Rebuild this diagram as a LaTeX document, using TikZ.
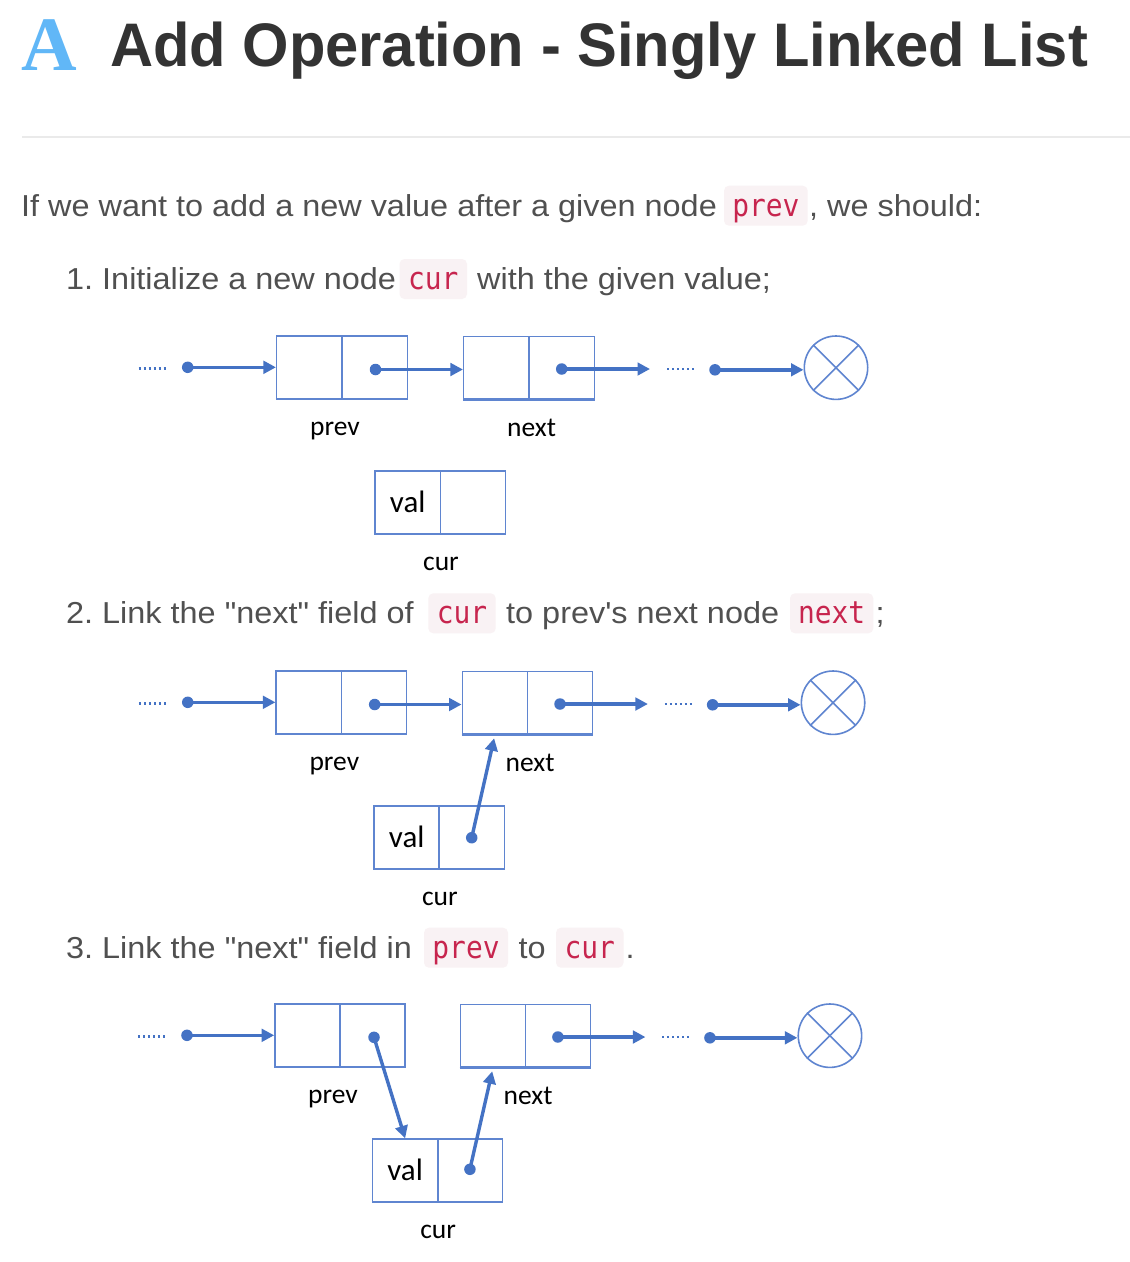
\documentclass[tikz,border=0pt]{standalone}
\usepackage{fontspec}
\setmainfont{Liberation Sans}
\newfontfamily\bodyfont[FakeStretch=1.07,Ligatures=TeXOff]{Liberation Sans}
\newfontfamily\titlefont[FakeStretch=0.97]{Liberation Sans}
\newfontfamily\serifA{Liberation Serif}
\newfontfamily\codefont[FakeStretch=0.9]{DejaVu Sans Mono}
\newfontfamily\labelfont{Carlito}
\usetikzlibrary{arrows.meta}
\frenchspacing
\definecolor{titlegray}{RGB}{51,51,51}
\definecolor{bodygray}{RGB}{80,80,80}
\definecolor{Ablue}{RGB}{97,183,247}
\definecolor{rulegray}{RGB}{234,234,234}
\definecolor{codered}{RGB}{199,37,78}
\definecolor{codebg}{RGB}{249,242,244}
\definecolor{arrowblue}{RGB}{68,114,196}
\definecolor{boxblue}{RGB}{95,133,208}
\tikzset{
  txt/.style={anchor=base west, inner sep=0pt, text=bodygray, font={\bodyfont\fontsize{30.3pt}{36pt}\selectfont}},
  chip/.style={anchor=base, inner xsep=0pt, inner ysep=0pt, text height=30.3pt, text depth=9.7pt, fill=codebg, rounded corners=5pt, text=codered, font={\codefont\fontsize{31pt}{36pt}\selectfont}},
  cell/.style={draw=boxblue, line width=1.4pt, minimum width=65.3pt, minimum height=62.5pt, inner sep=0pt, text=black, font={\labelfont\fontsize{31pt}{36pt}\selectfont}},
  edgeb/.style={draw=boxblue, line width=2.2pt},
  dotn/.style={circle, fill=arrowblue, minimum size=11.5pt, inner sep=0pt},
  arr/.style={draw=arrowblue, line width=3.4pt, -{Triangle[length=12.5pt,width=12.5pt]}},
  nullc/.style={circle, draw=boxblue, line width=1.6pt, minimum size=63.4pt, inner sep=0pt},
  xline/.style={draw=boxblue, line width=1.6pt},
  lbl/.style={anchor=base, inner sep=0pt, text=black, font={\labelfont\fontsize{27.5pt}{33pt}\selectfont}},
  ellip/.style={draw=arrowblue, line width=2.4pt, dash pattern=on 2.2pt off 2.8pt}
}
\newcommand\listbase[1]{%
  \node[cell] (pL#1) at (309.3,367.3) {};
  \node[cell] (pR#1) at (374.7,367.3) {};
  \node[cell] (nL#1) at (496.3,367.9) {};
  \node[cell] (nR#1) at (561.7,367.9) {};
  \node[cell] (cL#1) at (407.7,502.3) {val};
  \node[cell] (cR#1) at (473,502.3) {};
  \draw[edgeb] (pL#1.south west) -- (pR#1.south east);
  \draw[edgeb] (nL#1.south west) -- (nR#1.south east);
  \draw[edgeb] (cL#1.south west) -- (cR#1.south east);
  \node[nullc] (z#1) at (836,367.7) {};
  \draw[xline] (z#1.north west) -- (z#1.south east);
  \draw[xline] (z#1.north east) -- (z#1.south west);
  \node[lbl] (lp#1) at (335,435) {prev};
  \node[lbl] (ln#1) at (531.7,436.7) {next};
  \node[lbl] (lc#1) at (441,570) {cur};
  \node[dotn] (ds#1) at (187.7,367.3) {};
  \node[dotn] (dn#1) at (561.7,369) {};
  \node[dotn] (dt#1) at (715,369.8) {};
  \coordinate (e#1) at (650,369);
  \coordinate (ma#1) at (138.5,368.5);
  \coordinate (mb#1) at (165.5,368.5);
  \coordinate (mc#1) at (667,369);
  \coordinate (md#1) at (694,369);
  \draw[ellip] (ma#1) -- (mb#1);
  \draw[ellip] (mc#1) -- (md#1);
  \draw[arr] (ds#1.center) -- (pL#1.west);
  \draw[arr] (dn#1.center) -- (e#1);
  \draw[arr] (dt#1.center) -- (dt#1.center -| z#1.west);
}
\begin{document}
\begin{tikzpicture}[x=1pt, y=-1pt]
\useasboundingbox (0,0) rectangle (1130,1262);
\fill[white] (0,0) rectangle (1130,1262);

% title
\node[anchor=base west, inner sep=0pt, text=Ablue, font={\serifA\bfseries\fontsize{77pt}{80pt}\selectfont}] (logo) at (21,70.3) {A};
\node[anchor=base west, inner sep=0pt, text=titlegray, font={\titlefont\bfseries\fontsize{61.5pt}{70pt}\selectfont}] (title) at (110,66.7) {Add Operation - Singly Linked List};
\draw[rulegray, line width=2pt] (22,136.7) -- (1130,136.7);

% intro line
\node[txt] (t0a) at (21,216) {If we want to add a new value after a given node};
\node[chip, minimum width=83.7pt] (t0b) at (765.85,216) {prev};
\node[txt] (t0c) at (809,216) {, we should:};

% step 1
\node[txt] (t1a) at (66,289.3) {1. Initialize a new node};
\node[chip, minimum width=67.5pt] (t1b) at (433.25,289.3) {cur};
\node[txt] (t1c) at (477,289.3) {with the given value;};

% step 2
\node[txt] (t2a) at (66,623.6) {2. Link the "next" field of};
\node[chip, minimum width=67.4pt] (t2b) at (462,623.6) {cur};
\node[txt] (t2c) at (506,623.6) {to prev's next node};
\node[chip, minimum width=83.3pt] (t2d) at (831.65,623.6) {next};
\node[txt] (t2e) at (875.5,623.6) {;};

% step 3
\node[txt] (t3a) at (66,958) {3. Link the "next" field in};
\node[chip, minimum width=84pt] (t3b) at (466,958) {prev};
\node[txt] (t3c) at (518.5,958) {to};
\node[chip, minimum width=67.5pt] (t3d) at (589.75,958) {cur};
\node[txt] (t3e) at (625.5,958) {.};

% diagram 1
\begin{scope}
  \listbase{1}
  \node[dotn] (dp1) at (375.5,369.5) {};
  \draw[arr] (dp1.center) -- (dp1.center -| nL1.west);
\end{scope}

% diagram 2
\begin{scope}[shift={(0.9,335)}, xscale=0.9954]
  \listbase{2}
  \node[dotn] (dp2) at (375.5,369.5) {};
  \node[dotn] (dc2) at (473,502.7) {};
  \draw[arr] (dp2.center) -- (dp2.center -| nL2.west);
  \draw[arr, shorten >=3.5pt] (dc2.center) -- (nL2.south);
\end{scope}

% diagram 3
\begin{scope}[shift={(0.8,668)}, xscale=0.9918]
  \listbase{3}
  \node[dotn] (dp3) at (376.3,369.3) {};
  \node[dotn] (dc3) at (473,501.3) {};
  \draw[arr] (dp3.center) -- (cL3.north);
  \draw[arr, shorten >=3.5pt] (dc3.center) -- (nL3.south);
\end{scope}
\end{tikzpicture}
\end{document}
